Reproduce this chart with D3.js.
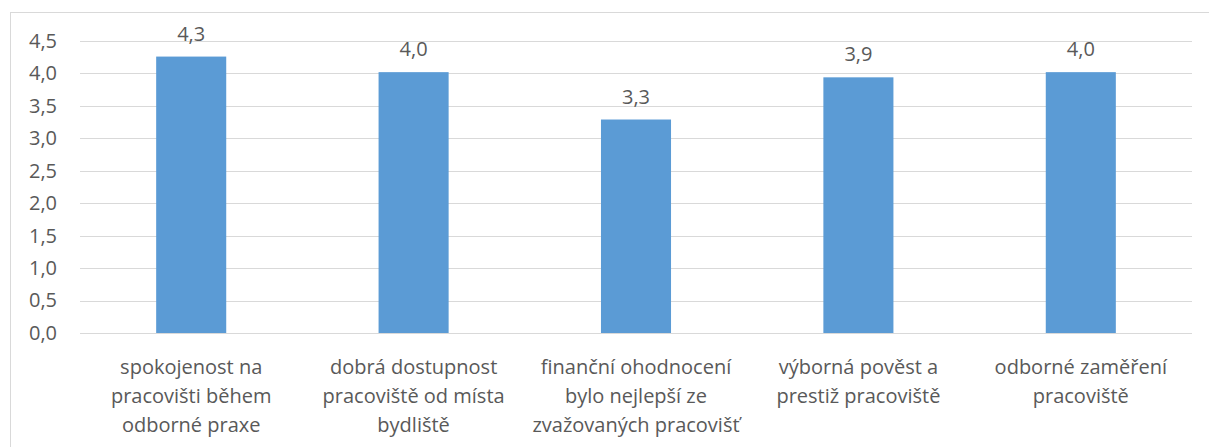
<!DOCTYPE html>
<html>
<head>
<meta charset="utf-8">
<script src="https://cdn.jsdelivr.net/npm/d3@7"></script>
<style>
  body { margin: 0; background: #fff; }
  text { font-family: "Open Sans", sans-serif; fill: #595959; }
</style>
</head>
<body>
<div class="chart-container"></div>
<script>
// categories, one string per bar, lines split by \n as in the original
const categories = [
    'spokojenost na\npracovišti během\nodborné praxe',
    'dobrá dostupnost\npracoviště od místa\nbydliště',
    'finanční ohodnocení\nbylo nejlepší ze\nzvažovaných pracovišť',
    'výborná pověst a\nprestiž pracoviště',
    'odborné zaměření\npracoviště'
];
const values = [4.26, 4.02, 3.29, 3.94, 4.02];
const yTicks = [0, 0.5, 1, 1.5, 2, 2.5, 3, 3.5, 4, 4.5];

const W = 1209, H = 447;
const margin = { top: 41, right: 17, bottom: 114, left: 80 };
const width = W - margin.left - margin.right;
const height = H - margin.top - margin.bottom;
const fontSize = '20px';

const fmt = v => d3.format('.1f')(v).replace('.', ',');

const root = d3.select('.chart-container')
    .append('svg')
    .attr('width', W)
    .attr('height', H);

// outer chart border (runs off the right/bottom edge)
root.append('rect')
    .attr('x', 10.5)
    .attr('y', 12.5)
    .attr('width', W)
    .attr('height', H)
    .attr('fill', 'none')
    .attr('stroke', '#d9d9d9');

const svg = root.append('g')
    .attr('transform', `translate(${margin.left},${margin.top})`);

const x = d3.scaleBand()
    .domain(categories)
    .range([0, width])
    .paddingInner(0.685)
    .paddingOuter(0.3425);

const y = d3.scaleLinear()
    .domain([0, 4.5])
    .range([height, 0]);

// gridlines
svg.append('g')
    .selectAll('line')
    .data(yTicks)
    .enter().append('line')
    .attr('x1', 0)
    .attr('x2', width)
    .attr('y1', d => Math.round(y(d)) + 0.5)
    .attr('y2', d => Math.round(y(d)) + 0.5)
    .attr('stroke', '#d9d9d9')
    .attr('stroke-width', 1);

// y axis labels
const yAxis = svg.append('g')
    .call(d3.axisLeft(y).tickValues(yTicks).tickFormat(fmt).tickSize(0).tickPadding(23));
yAxis.select('.domain').remove();
yAxis.selectAll('text')
    .attr('font-size', fontSize)
    .attr('fill', '#595959')
    .style('font-family', '"Open Sans", sans-serif');

// bars
svg.selectAll('.bar')
    .data(values)
    .enter().append('rect')
    .attr('class', 'bar')
    .attr('x', (d, i) => x(categories[i]))
    .attr('y', d => y(d))
    .attr('width', x.bandwidth())
    .attr('height', d => height - y(d))
    .attr('fill', '#5b9bd5');

// value labels
svg.append('g')
    .selectAll('text')
    .data(values)
    .enter().append('text')
    .text(d => fmt(d))
    .attr('x', (d, i) => x(categories[i]) + x.bandwidth() / 2)
    .attr('y', d => y(d) - 16)
    .attr('text-anchor', 'middle')
    .attr('font-size', fontSize);

// category labels
const cat = svg.append('g')
    .selectAll('text')
    .data(categories)
    .enter().append('text')
    .attr('x', d => x(d) + x.bandwidth() / 2)
    .attr('y', height + 41)
    .attr('text-anchor', 'middle')
    .attr('font-size', fontSize);

cat.selectAll('tspan')
    .data(d => d.split('\n'))
    .enter().append('tspan')
    .attr('x', function () { return d3.select(this.parentNode).attr('x'); })
    .attr('dy', (d, i) => i === 0 ? 0 : 29)
    .text(d => d);
</script>
</body>
</html>
